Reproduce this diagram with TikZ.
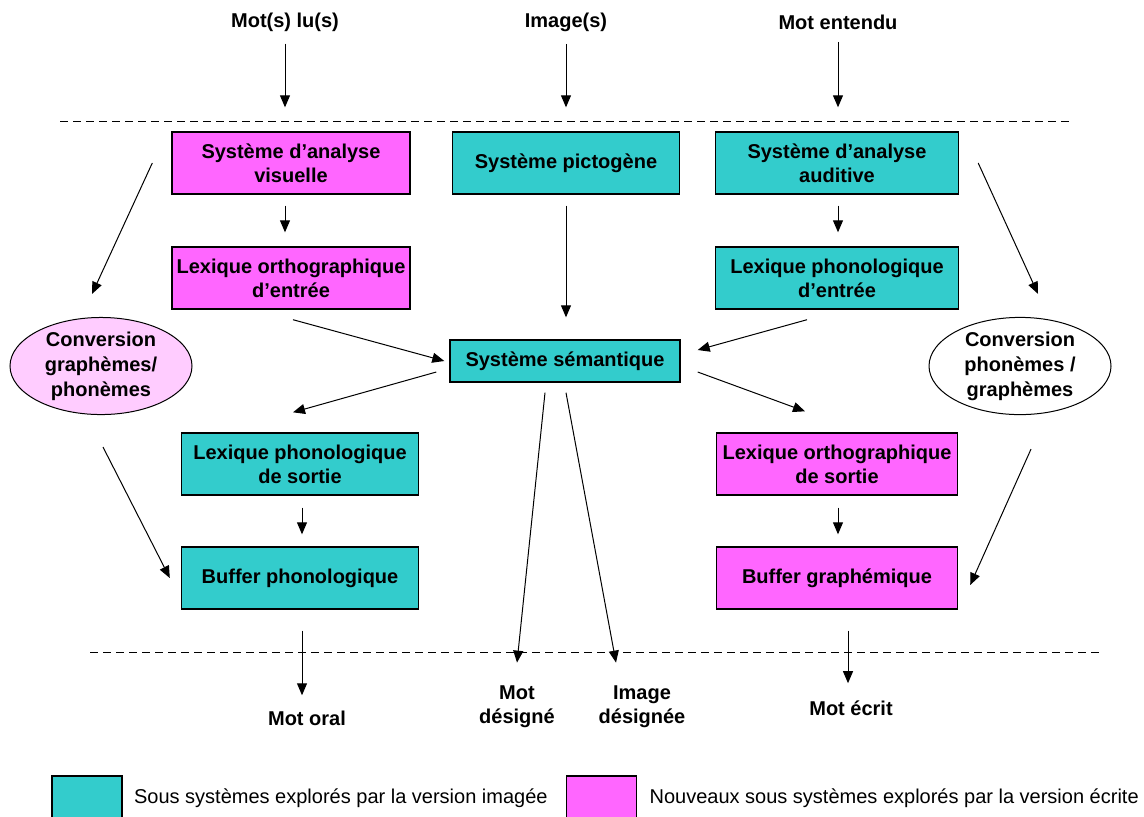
\documentclass[tikz,border=0pt]{standalone}
\usepackage{fontspec}
\setmainfont{Liberation Sans}
\usetikzlibrary{arrows.meta,shapes.geometric,calc}

\definecolor{cyanbox}{HTML}{33CCCC}
\definecolor{magbox}{HTML}{FF66FF}
\definecolor{pinkell}{HTML}{FFCCFF}

\begin{document}
\begin{tikzpicture}[x=0.5pt, y=-0.5pt,
    sys/.style={draw, line width=0.7pt, minimum height=31pt, align=center, inner sep=2pt, font=\fontsize{10}{12}\selectfont\bfseries},
    cyn/.style={sys, fill=cyanbox},
    mag/.style={sys, fill=magbox},
    conv/.style={ellipse, draw, line width=0.5pt, minimum width=91pt, minimum height=46.5pt, inner sep=0pt, align=center, font=\fontsize{10}{12.5}\selectfont\bfseries},
    io/.style={align=center, inner sep=1pt, font=\fontsize{10}{12}\selectfont\bfseries},
    arr/.style={-{Triangle[length=6pt,width=5pt]}, line width=0.5pt},
    sep/.style={dash pattern=on 4pt off 2.5pt, line width=0.5pt},
    legbox/.style={draw, line width=0.7pt, minimum width=35pt, minimum height=22pt, inner sep=0pt},
    legtxt/.style={anchor=west, inner sep=0pt, font=\fontsize{10}{12}\selectfont}
]
\useasboundingbox (0,0) rectangle (1144,816);

% entrees
\node[io] (lu) at (285,22) {Mot(s) lu(s)};
\node[io] (img) at (566,22) {Image(s)};
\node[io] (ent) at (838,22) {Mot entendu};

% sous-systemes
\node[mag, minimum width=119pt] (sav) at (291,163) {Système d’analyse\\visuelle};
\node[cyn, minimum width=113.5pt] (pict) at (566,163) {Système pictogène};
\node[cyn, minimum width=121.5pt] (saa) at (837,163) {Système d’analyse\\auditive};
\node[mag, minimum width=119pt] (loe) at (291,278) {Lexique orthographique\\d’entrée};
\node[cyn, minimum width=121.5pt] (lpe) at (837,278) {Lexique phonologique\\d’entrée};
\node[cyn, minimum width=115pt, minimum height=21pt] (sem) at (565,361) {Système sémantique};
\node[conv, fill=pinkell] (convg) at (101,366) {Conversion\\graphèmes/\\phonèmes};
\node[conv, fill=white] (convp) at (1020,366) {Conversion\\phonèmes /\\graphèmes};
\node[cyn, minimum width=118.5pt] (lps) at (300,464) {Lexique phonologique\\de sortie};
\node[mag, minimum width=120.5pt] (los) at (837,464) {Lexique orthographique\\de sortie};
\node[cyn, minimum width=118.5pt] (bp) at (300,578) {Buffer phonologique};
\node[mag, minimum width=120.5pt] (bg) at (837,578) {Buffer graphémique};

% sorties
\node[io] (oral) at (307,718) {Mot oral};
\node[io] (motd) at (517,707) {Mot\\désigné};
\node[io] (imgd) at (642,707) {Image\\désignée};
\node[io] (ecrit) at (851,708) {Mot écrit};

% separations
\draw[sep] (60,121) -- (1070,121);
\draw[sep] (90,652) -- (1100,652);

% fleches
\draw[arr] ($(lu.south)+(0,10)$) -- ($(lu |- sav.north)+(0,-24)$);
\draw[arr] ($(img.south)+(0,10)$) -- ($(img |- pict.north)+(0,-24)$);
\draw[arr] ($(ent.south)+(0,10)$) -- ($(ent |- saa.north)+(0,-24)$);
\draw[arr] ($(sav.south)+(-6,11)$) -- ($(loe.north)+(-6,-14)$);
\draw[arr] ($(saa.south)+(1,11)$) -- ($(lpe.north)+(1,-14)$);
\draw[arr] ($(pict.south)+(0,11)$) -- ($(sem.north)+(1,-22)$);
\draw[arr] ($(loe.south)+(2,10)$) -- ($(sem.west)+(-5,0)$);
\draw[arr] ($(lpe.south)+(-30,10)$) -- ($(sem.east)+(17,-11)$);
\draw[arr] ($(sem.west)+(-13,11)$) -- ($(lps.north)+(-7,-20)$);
\draw[arr] ($(sem.east)+(17,11)$) -- ($(los.north)+(-32,-21)$);
\draw[arr] ($(sav.west)+(-19,0)$) -- ($(convg.north)+(-9,-23)$);
\draw[arr] ($(saa.east)+(19,0)$) -- ($(convp.north)+(18,-23)$);
\draw[arr] ($(convg.south)+(2,32)$) -- ($(bp.west)+(-11,0)$);
\draw[arr] ($(convp.south)+(11,34)$) -- ($(bg.east)+(12,7)$);
\draw[arr] ($(lps.south)+(2,12)$) -- ($(bp.north)+(2,-12)$);
\draw[arr] ($(los.south)+(1,12)$) -- ($(bg.north)+(1,-12)$);
\draw[arr] ($(sem.south)+(-20,10)$) -- ($(motd.north)+(0,-21)$);
\draw[arr] ($(sem.south)+(1,10)$) -- ($(imgd.north)+(-26,-21)$);
\draw[arr] ($(bp.south)+(2,21)$) -- ($(oral.north)+(-5,-13)$);
\draw[arr] ($(bg.south)+(11,21)$) -- ($(ecrit.north)+(-3,-15)$);

% legende
\node[legbox, fill=cyanbox] (legc) at (87,798) {};
\node[legtxt] (legct) at ($(legc.east)+(11,0)$) {Sous systèmes explorés par la version imagée};
\node[legbox, fill=magbox] (legm) at (601.5,798) {};
\node[legtxt] (legmt) at ($(legm.east)+(12,0)$) {Nouveaux sous systèmes explorés par la version écrite};
\end{tikzpicture}
\end{document}
